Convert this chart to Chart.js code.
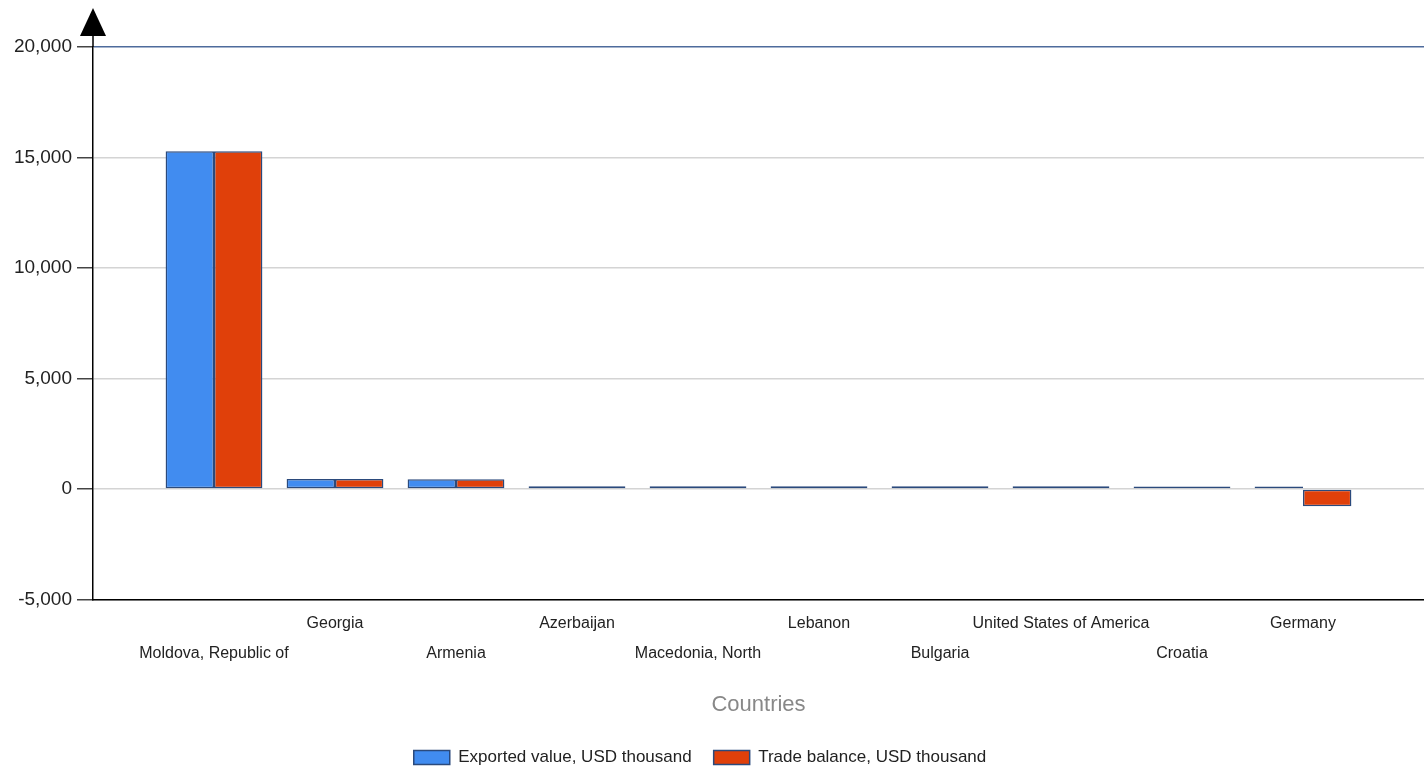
<!DOCTYPE html>
<html>
<head>
<meta charset="utf-8">
<script src="https://cdn.jsdelivr.net/npm/chart.js@4/dist/chart.umd.min.js"></script>
<style>
  html, body { margin: 0; padding: 0; background: #fff; }
  #wrap { width: 1424px; height: 766px; }
</style>
</head>
<body>
<div id="wrap"><canvas id="chart" width="1424" height="766"></canvas></div>
<script>
// data
const countries = ['Moldova, Republic of', 'Georgia', 'Armenia', 'Azerbaijan', 'Macedonia, North',
  'Lebanon', 'Bulgaria', 'United States of America', 'Croatia', 'Germany'];
const exportedValue = [15280, 450, 440, 130, 130, 120, 120, 120, 110, 110];
const tradeBalance = [15280, 450, 440, 130, 130, 120, 120, 120, 110, -780];
const yTicks = [-5000, 0, 5000, 10000, 15000, 20000];

const FONT = "'Liberation Sans', Arial, sans-serif";

// y axis arrow above the plot
const axisArrow = {
  id: 'axisArrow',
  afterLayout(chart) {
    // legend sits a bit left of centre in the original
    chart.legend.left -= 12;
    chart.legend.right -= 12;
  },
  afterDraw(chart) {
    const ctx = chart.ctx;
    const x = chart.scales.y.right;
    const top = chart.chartArea.top;
    ctx.save();
    ctx.strokeStyle = '#000';
    ctx.lineWidth = 1.5;
    ctx.beginPath();
    ctx.moveTo(x, top);
    ctx.lineTo(x, top - 20);
    ctx.stroke();
    ctx.fillStyle = '#000';
    ctx.beginPath();
    ctx.moveTo(x, top - 39);
    ctx.lineTo(x + 13, top - 11);
    ctx.lineTo(x - 13, top - 11);
    ctx.closePath();
    ctx.fill();
    ctx.restore();
  }
};

new Chart(document.getElementById('chart'), {
  type: 'bar',
  data: {
    datasets: [
      {
        label: 'Exported value, USD thousand',
        data: exportedValue.map((v, i) => ({ x: i, y: v })),
        backgroundColor: '#418CF0',
        borderColor: '#2B4A7C',
        borderWidth: 1.5,
        borderSkipped: false,
        categoryPercentage: 0.8,
        barPercentage: 1.0
      },
      {
        label: 'Trade balance, USD thousand',
        data: tradeBalance.map((v, i) => ({ x: i, y: v })),
        backgroundColor: '#E0400A',
        borderColor: '#2B4A7C',
        borderWidth: 1.5,
        borderSkipped: false,
        categoryPercentage: 0.8,
        barPercentage: 1.0
      }
    ]
  },
  options: {
    responsive: false,
    animation: false,
    layout: { padding: { top: 47, right: 0, left: 0, bottom: -10 } },
    plugins: {
      tooltip: { enabled: false },
      legend: {
        position: 'bottom',
        labels: {
          boxWidth: 36,
          boxHeight: 14,
          padding: 22,
          color: '#222',
          font: { family: FONT, size: 17 }
        }
      }
    },
    scales: {
      x: {
        type: 'linear',
        offset: false,
        min: -1,
        max: countries.length,
        grid: { display: false, drawTicks: false },
        border: { display: true, color: '#000', width: 1.5 },
        ticks: {
          stepSize: 1,
          autoSkip: false,
          maxRotation: 0,
          padding: 9,
          color: '#222',
          font: { family: FONT, size: 16, lineHeight: 1.875 },
          callback: (v) => {
            const name = countries[v];
            if (name === undefined) return '';
            return v % 2 === 1 ? [name] : ['', name];
          }
        },
        title: {
          display: true,
          text: 'Countries',
          color: '#888',
          font: { family: FONT, size: 22 },
          padding: { top: 0, bottom: 9 }
        },
        afterFit: (scale) => {
          scale.height = 127.5;
          scale.paddingLeft = 0;
          scale.paddingRight = 0;
        }
      },
      y: {
        min: yTicks[0],
        max: yTicks[yTicks.length - 1],
        afterBuildTicks: (scale) => { scale.ticks = yTicks.map(v => ({ value: v })); },
        grid: {
          color: (c) => c.tick && c.tick.value === 20000 ? '#4E6B9C' : '#D4D4D4',
          lineWidth: 1.5,
          tickLength: 16,
          tickColor: '#444'
        },
        border: { display: true, color: '#000', width: 1.5 },
        ticks: {
          padding: 5,
          color: '#222',
          font: { family: FONT, size: 19 },
          callback: (v) => v.toLocaleString('en-US')
        },
        afterFit: (scale) => { scale.width = 93; }
      }
    }
  },
  plugins: [axisArrow]
});
</script>
</body>
</html>
